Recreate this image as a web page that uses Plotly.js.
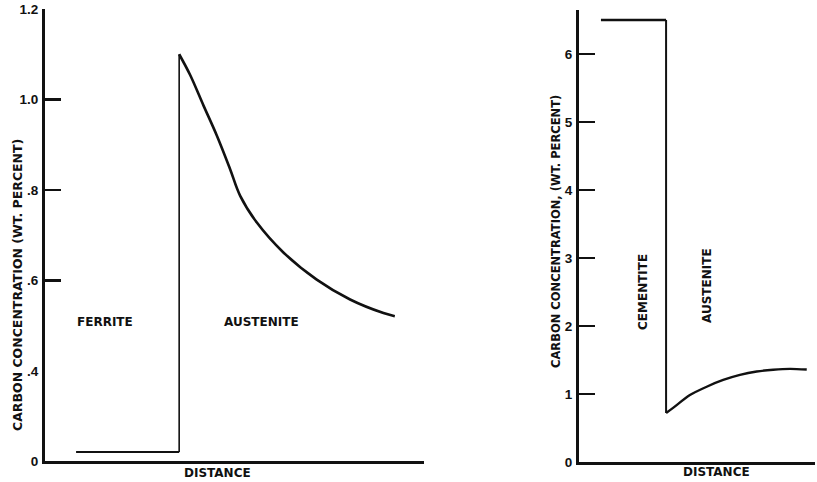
<!DOCTYPE html>
<html>
<head>
<meta charset="utf-8">
<script src="https://cdn.plot.ly/plotly-3.0.1.min.js"></script>
<style>
  html, body { margin: 0; padding: 0; background: #fff; }
  #chart { width: 817px; height: 482px; }
</style>
</head>
<body>
<div id="chart"></div>
<script>
// Left diagram: ferrite / austenite carbon profile (distance in arbitrary units)
const ferriteX = [8.2, 35.4];
const ferriteC = [0.04, 0.04];
const interfaceX = 35.4;
const austeniteX = [35.4, 38.3, 41.8, 45.3, 48.8, 51.5, 55.9, 62.9, 71.7, 80.5, 89.3, 92.3];
const austeniteC = [1.10, 1.054, 0.987, 0.921, 0.847, 0.787, 0.728, 0.662, 0.602, 0.558, 0.528, 0.521];

// Right diagram: cementite / austenite carbon profile
const cementiteX = [9.3, 36.9];
const cementiteC = [6.5, 6.5];
const interface2X = 36.9;
const austenite2X = [36.9, 40.0, 47.0, 54.1, 61.1, 68.2, 75.3, 82.3, 89.4, 96.5];
const austenite2C = [0.72, 0.80, 0.985, 1.107, 1.206, 1.28, 1.33, 1.357, 1.37, 1.36];

// Tick labels (left axis has a break below .4)
const leftLowTicks = [0];
const leftLowText = ['0'];
const leftHighTicks = [0.4, 0.6, 0.8, 1.0, 1.2];
const leftHighText = ['.4', '.6', '.8', '1.0', '1.2'];
const rightTicks = [0, 1, 2, 3, 4, 5, 6];
const rightText = ['0', '1', '2', '3', '4', '5', '6'];

const BREAK = 0.4;
const INK = '#111';

function line(x, y, xa, ya, w, smooth) {
  const ln = { color: INK, width: w };
  if (smooth) { ln.shape = 'spline'; ln.smoothing = smooth; }
  return { x: x, y: y, xaxis: xa, yaxis: ya, mode: 'lines',
           line: ln, hoverinfo: 'skip', showlegend: false };
}

const traces = [
  line(ferriteX, ferriteC, 'x', 'y', 2.2),
  line([interfaceX, interfaceX], [ferriteC[1], BREAK], 'x', 'y', 1.6),
  line([interfaceX, interfaceX], [BREAK, austeniteC[0]], 'x', 'y2', 1.6),
  line(austeniteX, austeniteC, 'x', 'y2', 2.6, 1.0),
  line(cementiteX, cementiteC, 'x2', 'y3', 2.4),
  line([interface2X, interface2X], [cementiteC[1], austenite2C[0]], 'x2', 'y3', 2.0),
  line(austenite2X, austenite2C, 'x2', 'y3', 2.4, 0.8)
];

const W = 817, H = 482;
const px = v => v / W;
const py = v => 1 - v / H;

const tickFont = { family: 'Liberation Sans, Arial, sans-serif', size: 13.5, color: INK, weight: 'bold' };
const labelFont = { family: 'DejaVu Sans, sans-serif', size: 12, color: INK, weight: 'bold' };
const titleFontL = { family: 'DejaVu Sans, sans-serif', size: 12.5, color: INK, weight: 'bold' };
const titleFontR = { family: 'DejaVu Sans, sans-serif', size: 11.5, color: INK, weight: 'bold' };

const yCommon = {
  showgrid: false, zeroline: false, showline: true, linecolor: INK, linewidth: 3,
  ticks: 'inside', ticklen: 16, tickwidth: 2.5, tickcolor: INK,
  tickmode: 'array', tickfont: tickFont, fixedrange: true, ticklabelstandoff: 1
};
const xCommon = {
  showgrid: false, zeroline: false, showline: true, linecolor: INK, linewidth: 3,
  ticks: '', showticklabels: false, range: [0, 100], fixedrange: true
};

function ann(text, x, y, angle, font) {
  return { text: text, x: px(x), y: py(y), xref: 'paper', yref: 'paper',
           showarrow: false, textangle: angle || 0, font: font || labelFont,
           xanchor: 'center', yanchor: 'middle' };
}

const layout = {
  width: W, height: H,
  margin: { l: 0, r: 0, t: 0, b: 0 },
  paper_bgcolor: '#fff', plot_bgcolor: 'rgba(0,0,0,0)',
  showlegend: false,
  xaxis: Object.assign({}, xCommon, { domain: [px(45), px(424)], anchor: 'y' }),
  yaxis: Object.assign({}, yCommon, { domain: [py(461), py(371)], range: [0, BREAK],
          tickvals: leftLowTicks, ticktext: leftLowText, anchor: 'x' }),
  yaxis2: Object.assign({}, yCommon, { domain: [py(371), py(9)], range: [BREAK, 1.2],
          tickvals: leftHighTicks, ticktext: leftHighText, anchor: 'x' }),
  xaxis2: Object.assign({}, xCommon, { domain: [px(579), px(815)], anchor: 'y3' }),
  yaxis3: Object.assign({}, yCommon, { domain: [py(462), py(10)], range: [0, 6.647],
          tickvals: rightTicks, ticktext: rightText, anchor: 'x2' }),
  annotations: [
    ann('CARBON CONCENTRATION (WT. PERCENT)', 17, 285, -90, titleFontL),
    ann('FERRITE', 105, 322),
    ann('AUSTENITE', 261, 322),
    ann('DISTANCE', 217, 473),
    ann('CARBON CONCENTRATION, (WT. PERCENT)', 556, 232, -90, titleFontR),
    ann('CEMENTITE', 643, 292, -90),
    ann('AUSTENITE', 707, 286, -90),
    ann('DISTANCE', 716, 472)
  ]
};

Plotly.newPlot('chart', traces, layout, { displayModeBar: false, staticPlot: true });
</script>
</body>
</html>
